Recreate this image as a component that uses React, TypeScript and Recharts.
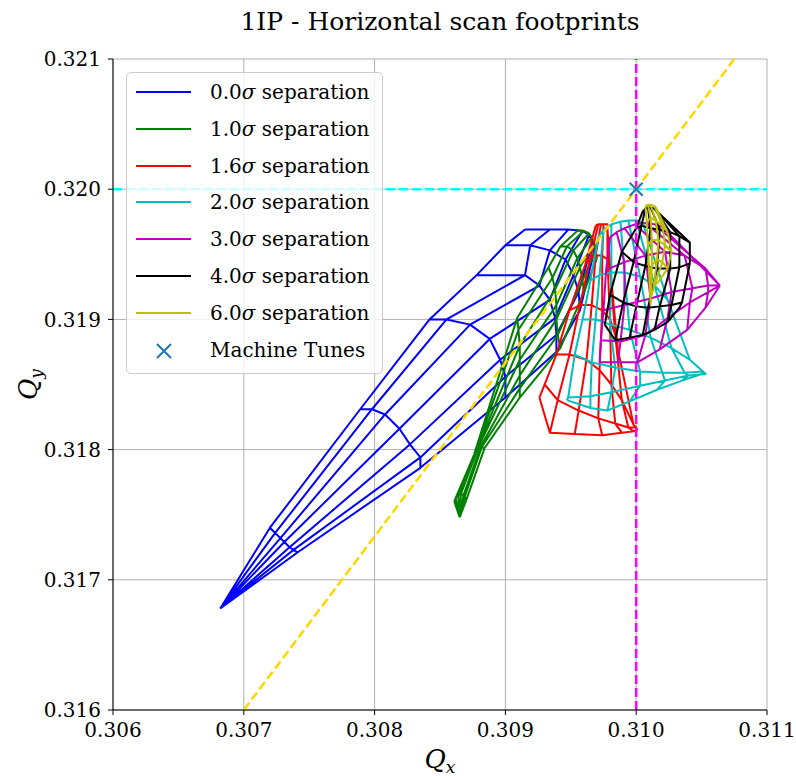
import React from 'react';
import {
  ComposedChart,
  Line,
  Scatter,
  XAxis,
  YAxis,
  CartesianGrid,
  ReferenceLine,
  Label,
} from 'recharts';

type Pt = [number, number];

const X_TICKS = [0.306, 0.307, 0.308, 0.309, 0.31, 0.311];
const Y_TICKS = [0.316, 0.317, 0.318, 0.319, 0.32, 0.321];

const SEPARATIONS = ['0.0', '1.0', '1.6', '2.0', '3.0', '4.0', '6.0'];
const COLORS = ['#0000ff', '#008000', '#ff0000', '#00bfbf', '#bf00bf', '#000000', '#bfbf00'];

const MACHINE_TUNES = [{ x: 0.31, y: 0.32 }];

// footprints: each is a list of constant-amplitude arcs, each arc lists points per angle
const FP_0_0: Pt[][] = [
  [[0.30682, 0.31678], [0.30682, 0.31678], [0.30682, 0.31678], [0.30682, 0.31678], [0.30682, 0.31678], [0.30682, 0.31678], [0.30682, 0.31678]],
  [[0.3072, 0.3174], [0.30724, 0.31736], [0.30728, 0.31732], [0.30731, 0.31729], [0.30735, 0.31725], [0.30738, 0.31723], [0.30741, 0.31721]],
  [[0.30789, 0.31831], [0.30798, 0.31831], [0.30808, 0.31827], [0.30819, 0.31816], [0.30827, 0.31804], [0.30835, 0.31794], [0.30835, 0.31786]],
  [[0.30842, 0.319], [0.30855, 0.319], [0.30873, 0.31896], [0.30888, 0.31885], [0.30896, 0.31869], [0.309, 0.31856], [0.309, 0.3184]],
  [[0.30878, 0.31934], [0.30915, 0.31934], [0.30926, 0.31926], [0.30934, 0.31915], [0.30938, 0.31901], [0.30939, 0.31888], [0.30939, 0.31875]],
  [[0.309, 0.31957], [0.30919, 0.31957], [0.30934, 0.31953], [0.30946, 0.31946], [0.30952, 0.31934], [0.30956, 0.31921], [0.30957, 0.31907]],
  [[0.30915, 0.31969], [0.30934, 0.31969], [0.30948, 0.31969], [0.30959, 0.31968], [0.30964, 0.31965], [0.30967, 0.3196], [0.30968, 0.31953]],
];

const FP_1_0: Pt[][] = [
  [[0.30865, 0.31748], [0.30865, 0.31748], [0.30865, 0.31748], [0.30865, 0.31748], [0.30865, 0.31748], [0.30865, 0.31748], [0.30865, 0.31748]],
  [[0.30861, 0.3176], [0.30862, 0.31763], [0.30864, 0.31765], [0.30866, 0.31766], [0.30868, 0.31765], [0.30869, 0.31764], [0.3087, 0.31761]],
  [[0.30876, 0.31796], [0.30877, 0.31798], [0.30878, 0.318], [0.30879, 0.31801], [0.30881, 0.31802], [0.30882, 0.31802], [0.30884, 0.31801]],
  [[0.30909, 0.31901], [0.3091, 0.31892], [0.30911, 0.3188], [0.30911, 0.31869], [0.30911, 0.31857], [0.30911, 0.31847], [0.30911, 0.3184]],
  [[0.30933, 0.3194], [0.30936, 0.31932], [0.30938, 0.31923], [0.30939, 0.31911], [0.30939, 0.319], [0.3094, 0.31888], [0.30942, 0.31878]],
  [[0.30942, 0.31956], [0.30947, 0.31956], [0.30952, 0.31953], [0.30955, 0.31947], [0.30957, 0.3194], [0.30959, 0.3193], [0.3096, 0.31921]],
  [[0.30955, 0.31968], [0.3096, 0.31968], [0.30964, 0.31966], [0.30966, 0.31963], [0.30968, 0.31959], [0.30969, 0.31953], [0.3097, 0.31947]],
];

const FP_1_6: Pt[][] = [
  [[0.30969, 0.31972], [0.30971, 0.31973], [0.30973, 0.31973], [0.30975, 0.31973], [0.30978, 0.31973], [0.30978, 0.3197], [0.30978, 0.31967]],
  [[0.30961, 0.31942], [0.30965, 0.31947], [0.30969, 0.31949], [0.30974, 0.31949], [0.30978, 0.31946], [0.3098, 0.31939], [0.30981, 0.3193]],
  [[0.30949, 0.31907], [0.30957, 0.31911], [0.30966, 0.31911], [0.30974, 0.31907], [0.3098, 0.319], [0.30984, 0.31888], [0.30986, 0.31877]],
  [[0.30939, 0.31873], [0.30949, 0.31873], [0.30962, 0.31869], [0.30972, 0.31861], [0.30981, 0.3185], [0.30989, 0.31838], [0.30998, 0.31819]],
  [[0.3093, 0.3185], [0.3094, 0.31838], [0.30956, 0.3183], [0.30971, 0.31824], [0.30984, 0.3182], [0.30994, 0.31817], [0.31, 0.31817]],
  [[0.30926, 0.3184], [0.30934, 0.31813], [0.30953, 0.31812], [0.30974, 0.31811], [0.30989, 0.31813], [0.30998, 0.31814], [0.31001, 0.31815]],
];

const FP_2_0: Pt[][] = [
  [[0.30971, 0.31963], [0.30975, 0.31969], [0.30981, 0.31973], [0.30988, 0.31975], [0.30994, 0.31976], [0.31, 0.31976], [0.31005, 0.31974]],
  [[0.30965, 0.3193], [0.30972, 0.31934], [0.30981, 0.31936], [0.30991, 0.31936], [0.31003, 0.31933], [0.31014, 0.31926], [0.31024, 0.31915]],
  [[0.30959, 0.319], [0.30969, 0.319], [0.3098, 0.31896], [0.30995, 0.31892], [0.31011, 0.31886], [0.31027, 0.31878], [0.31041, 0.31869]],
  [[0.30953, 0.31873], [0.30966, 0.31867], [0.30984, 0.31863], [0.31003, 0.3186], [0.3102, 0.31859], [0.31037, 0.31859], [0.31051, 0.3186]],
  [[0.30948, 0.3184], [0.30965, 0.31841], [0.30981, 0.31844], [0.31003, 0.31849], [0.31022, 0.31853], [0.3104, 0.31857], [0.31053, 0.31858]],
  [[0.30947, 0.31838], [0.30965, 0.31832], [0.30978, 0.3183], [0.30995, 0.31837], [0.31016, 0.31846], [0.31035, 0.31853], [0.31053, 0.31859]],
];

const FP_3_0: Pt[][] = [
  [[0.3098, 0.31963], [0.30985, 0.31967], [0.30991, 0.3197], [0.30999, 0.31973], [0.31007, 0.31974], [0.31014, 0.31973], [0.3102, 0.31971]],
  [[0.30977, 0.31938], [0.30991, 0.31944], [0.31007, 0.31949], [0.31022, 0.31952], [0.31037, 0.31949], [0.31053, 0.31939], [0.31064, 0.31926]],
  [[0.30975, 0.31907], [0.30991, 0.31911], [0.31011, 0.31916], [0.31027, 0.31921], [0.31043, 0.31924], [0.31055, 0.31926], [0.31064, 0.31926]],
  [[0.30973, 0.31884], [0.30988, 0.31883], [0.31007, 0.31888], [0.31024, 0.31901], [0.31041, 0.31913], [0.31055, 0.31921], [0.31064, 0.31926]],
  [[0.30972, 0.31867], [0.30986, 0.31867], [0.31001, 0.31867], [0.31018, 0.31877], [0.31039, 0.31892], [0.31053, 0.31909], [0.31064, 0.31926]],
];

const FP_4_0: Pt[][] = [
  [[0.31005, 0.31983], [0.31007, 0.31985], [0.31009, 0.31986], [0.31011, 0.31986], [0.31014, 0.31985], [0.31016, 0.31983], [0.31018, 0.31981]],
  [[0.31, 0.3197], [0.31004, 0.31972], [0.31011, 0.3197], [0.31018, 0.31969], [0.31026, 0.31967], [0.31033, 0.31964], [0.31041, 0.31959]],
  [[0.30989, 0.31952], [0.30998, 0.31944], [0.31007, 0.31941], [0.31016, 0.31939], [0.31026, 0.31939], [0.31033, 0.3194], [0.31041, 0.31943]],
  [[0.3098, 0.31919], [0.3099, 0.31913], [0.31, 0.3191], [0.31009, 0.31909], [0.31018, 0.3191], [0.31027, 0.31911], [0.31035, 0.31913]],
  [[0.30976, 0.31896], [0.30984, 0.31884], [0.30995, 0.31886], [0.31005, 0.31888], [0.31014, 0.31892], [0.31024, 0.31898], [0.31033, 0.31909]],
];

const FP_6_0: Pt[][] = [
  [[0.31007, 0.31987], [0.31009, 0.31988], [0.31011, 0.31988], [0.31014, 0.31987], [0.31015, 0.31986]],
  [[0.31008, 0.31975], [0.31011, 0.31978], [0.31015, 0.31976], [0.3102, 0.31972], [0.31024, 0.31967]],
  [[0.31009, 0.31957], [0.31012, 0.31961], [0.31017, 0.31961], [0.31022, 0.31957], [0.31027, 0.31952]],
  [[0.3101, 0.31934], [0.31012, 0.31942], [0.31016, 0.31946], [0.3102, 0.31944], [0.31024, 0.31939]],
  [[0.31011, 0.31911], [0.31011, 0.31916], [0.31013, 0.31923], [0.31014, 0.31926], [0.31017, 0.31929]],
];

const FOOTPRINTS = [FP_0_0, FP_1_0, FP_1_6, FP_2_0, FP_3_0, FP_4_0, FP_6_0];

type Row = { x: number; y: number | null };

function gridToPath(arcs: Pt[][]): Row[] {
  const out: Row[] = [];
  const push = (p: Pt) => out.push({ x: p[0], y: p[1] });
  const brk = (p: Pt) => out.push({ x: p[0], y: null });
  arcs.forEach((arc) => {
    arc.forEach(push);
    brk(arc[arc.length - 1]);
  });
  const n = arcs[0].length;
  for (let i = 0; i < n; i++) {
    arcs.forEach((arc) => push(arc[i]));
    brk(arcs[arcs.length - 1][i]);
  }
  return out;
}

const FONT = '"DejaVu Serif", serif';

const Cross = (props: any) => {
  const { cx, cy } = props;
  if (cx == null || cy == null) return null;
  const s = 6.5;
  return (
    <path
      d={`M${cx - s},${cy - s}L${cx + s},${cy + s}M${cx - s},${cy + s}L${cx + s},${cy - s}`}
      stroke="#1f77b4"
      strokeWidth={2}
      fill="none"
    />
  );
};

const XLabel = (props: any) => {
  const vb = props.viewBox;
  return (
    <text x={vb.x + vb.width / 2} y={vb.y + 58} textAnchor="middle" fontFamily={FONT} fontStyle="italic" fontSize={26} fill="#000">
      Q<tspan fontSize={17} dy={5}>x</tspan>
    </text>
  );
};

const YLabel = (props: any) => {
  const vb = props.viewBox;
  const cx = 37;
  const cy = vb.y + vb.height / 2;
  return (
    <text x={cx} y={cy} transform={`rotate(-90 ${cx} ${cy})`} textAnchor="middle" fontFamily={FONT} fontStyle="italic" fontSize={26} fill="#000">
      Q<tspan fontSize={17} dy={5}>y</tspan>
    </text>
  );
};

const LegendBox = () => {
  const rowH = 36.8;
  return (
    <div
      style={{
        position: 'absolute',
        left: 126,
        top: 72,
        width: 257,
        height: 302,
        boxSizing: 'border-box',
        border: '1px solid #cccccc',
        borderRadius: 5,
        background: 'rgba(255,255,255,0.8)',
        fontFamily: FONT,
        fontSize: 20,
        color: '#000',
      }}
    >
      {SEPARATIONS.map((s, i) => (
        <div key={s} style={{ position: 'absolute', left: 0, top: 19 + rowH * i - 12, height: 24, width: 255 }}>
          <div style={{ position: 'absolute', left: 9, top: 11, width: 55, height: 2, background: COLORS[i] }} />
          <div style={{ position: 'absolute', left: 83, top: 0, lineHeight: '24px', whiteSpace: 'nowrap' }}>
            {s}
            <i>σ</i> separation
          </div>
        </div>
      ))}
      <div style={{ position: 'absolute', left: 0, top: 19 + rowH * 7 - 12, height: 24, width: 255 }}>
        <svg style={{ position: 'absolute', left: 28, top: 4 }} width={18} height={18}>
          <path d="M2,2L16,16M2,16L16,2" stroke="#1f77b4" strokeWidth={2} />
        </svg>
        <div style={{ position: 'absolute', left: 83, top: 0, lineHeight: '24px', whiteSpace: 'nowrap' }}>Machine Tunes</div>
      </div>
    </div>
  );
};

export default function App() {
  const paths = FOOTPRINTS.map(gridToPath);
  return (
    <div style={{ position: 'absolute', left: 0, top: 0, width: 796, height: 776, background: '#fff' }}>
      <div
        style={{
          position: 'absolute',
          left: 0,
          width: 880,
          top: 7,
          textAlign: 'center',
          fontFamily: FONT,
          fontSize: 25,
          lineHeight: '30px',
          color: '#000',
          whiteSpace: 'nowrap',
        }}
      >
        1IP - Horizontal scan footprints
      </div>
      <ComposedChart width={796} height={776} margin={{ top: 59, right: 29, bottom: 0, left: 0 }}>
        <CartesianGrid stroke="#b0b0b0" strokeWidth={1} />
        <XAxis
          type="number"
          dataKey="x"
          domain={[0.306, 0.311]}
          ticks={X_TICKS}
          interval={0}
          allowDataOverflow
          tickFormatter={(v: number) => v.toFixed(3)}
          tick={{ fill: '#000', fontSize: 20, fontFamily: FONT }}
          tickLine={{ stroke: '#000' }}
          axisLine={{ stroke: '#000' }}
          tickSize={5}
          tickMargin={8}
          height={66}
        >
          <Label content={<XLabel />} />
        </XAxis>
        <YAxis
          type="number"
          dataKey="y"
          domain={[0.316, 0.321]}
          ticks={Y_TICKS}
          interval={0}
          allowDataOverflow
          tickFormatter={(v: number) => v.toFixed(3)}
          tick={{ fill: '#000', fontSize: 20, fontFamily: FONT }}
          tickLine={{ stroke: '#000' }}
          axisLine={{ stroke: '#000' }}
          tickSize={5}
          tickMargin={7}
          width={113}
        >
          <Label content={<YLabel />} />
        </YAxis>
        <XAxis xAxisId="top" orientation="top" type="number" domain={[0.306, 0.311]} ticks={X_TICKS} tick={false} tickLine={false} axisLine={{ stroke: '#000' }} height={0} />
        <YAxis yAxisId="right" orientation="right" type="number" domain={[0.316, 0.321]} ticks={Y_TICKS} tick={false} tickLine={false} axisLine={{ stroke: '#000' }} width={0} />
        {paths.map((d, i) => (
          <Line
            key={SEPARATIONS[i]}
            data={d}
            dataKey="y"
            stroke={COLORS[i]}
            strokeWidth={2}
            dot={false}
            activeDot={false}
            isAnimationActive={false}
            connectNulls={false}
            strokeLinejoin="round"
            name={`${SEPARATIONS[i]}σ separation`}
          />
        ))}
        <ReferenceLine y={0.32} stroke="#00ffff" strokeWidth={2.5} strokeDasharray="9 4" />
        <ReferenceLine x={0.31} stroke="#ff00ff" strokeWidth={2.5} strokeDasharray="9 4" />
        <ReferenceLine
          segment={[
            { x: 0.307, y: 0.316 },
            { x: 0.31075, y: 0.321 },
          ]}
          stroke="#ffd700"
          strokeWidth={2.5}
          strokeDasharray="9 4"
        />
        <Scatter data={MACHINE_TUNES} dataKey="y" shape={<Cross />} isAnimationActive={false} name="Machine Tunes" />
      </ComposedChart>
      <LegendBox />
    </div>
  );
}
